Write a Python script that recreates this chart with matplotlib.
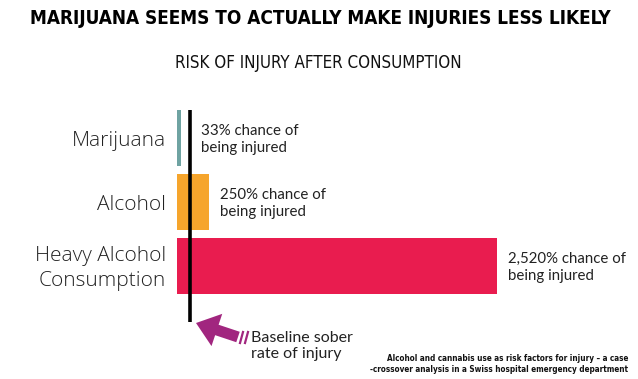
import numpy as np
import matplotlib.pyplot as plt
from matplotlib.patches import FancyArrow

# ---------------------------------------------------------
# Données
# ---------------------------------------------------------
categories = ["Marijuana", "Alcohol", "Heavy Alcohol\nConsumption"]
risk_pct = [33, 250, 2520]
labels = ["33% chance of\nbeing injured",
          "250% chance of\nbeing injured",
          "2,520% chance of\nbeing injured"]
colors = ["#6fa3a2", "#f6a52c", "#e91c4f"]
baseline = 100

W, H = 638, 379
fig = plt.figure(figsize=(W / 100, H / 100), dpi=100)
fig.patch.set_facecolor("white")

# overlay en pixels pour les textes libres
ov = fig.add_axes([0, 0, 1, 1])
ov.set_xlim(0, W)
ov.set_ylim(H, 0)
ov.axis("off")

# axes des barres : x=0 au pixel 177, 320 px pour 2520 %
left_px, right_px = 177, 637
top_px, bot_px = 100, 330
ax = fig.add_axes([left_px / W, 1 - bot_px / H, (right_px - left_px) / W, (bot_px - top_px) / H])
ax.set_xlim(0, (right_px - left_px) / 320 * 2520)
ax.set_ylim((bot_px - 138) / 64, (top_px - 138) / 64)
ax.axis("off")

y = np.arange(len(categories))
ax.barh(y, risk_pct, height=0.89, color=colors)

# ligne de référence (sobre)
ax.plot([baseline, baseline], [(110 - 138) / 64, (322 - 138) / 64],
        color="black", linewidth=2.6, solid_capstyle="butt")

# étiquettes de catégories
for yi, cat in zip(y, categories):
    ax.annotate(cat, xy=(0, yi), xytext=(-8, -2), textcoords="offset points",
                ha="right", va="center", fontsize=15, family="Open Sans",
                fontweight="light", color="#222222", linespacing=1.35)

# étiquettes de valeurs
for yi, v, lab in zip(y, risk_pct, labels):
    xv = max(v, baseline)
    ax.annotate(lab, xy=(xv, yi), xytext=(8, -1), textcoords="offset points",
                ha="left", va="center", fontsize=10.8, family="Lato",
                color="#222222", linespacing=1.3)

# titres
ov.text(320, 19, "MARIJUANA SEEMS TO ACTUALLY MAKE INJURIES LESS LIKELY",
        ha="center", va="center", fontsize=13.6, fontweight="bold",
        family="DejaVu Sans", fontstretch="condensed", color="black")
ov.text(318, 63, "RISK OF INJURY AFTER CONSUMPTION", ha="center", va="center",
        fontsize=12.2, family="DejaVu Sans", fontstretch="condensed",
        fontweight="light", color="#111111")

# flèche
purple = "#a1267f"
ov.add_patch(FancyArrow(238, 337, -42, -14, width=11, head_width=34,
                        head_length=22, length_includes_head=True,
                        color=purple, linewidth=0))
for dx in (0, 5):
    ov.plot([243 + dx, 240 + dx], [332, 343], color=purple, linewidth=1.6)

ov.text(251, 346, "Baseline sober\nrate of injury", ha="left", va="center",
        fontsize=11.5, family="Lato", color="#222222", linespacing=1.25)

ov.text(628, 364, "Alcohol and cannabis use as risk factors for injury – a case\n"
        "-crossover analysis in a Swiss hospital emergency department",
        ha="right", va="center", fontsize=5.9, family="DejaVu Sans",
        fontstretch="condensed", fontweight="bold", color="#111111",
        linespacing=1.35)

plt.savefig("out.png", dpi=100, facecolor="white")
